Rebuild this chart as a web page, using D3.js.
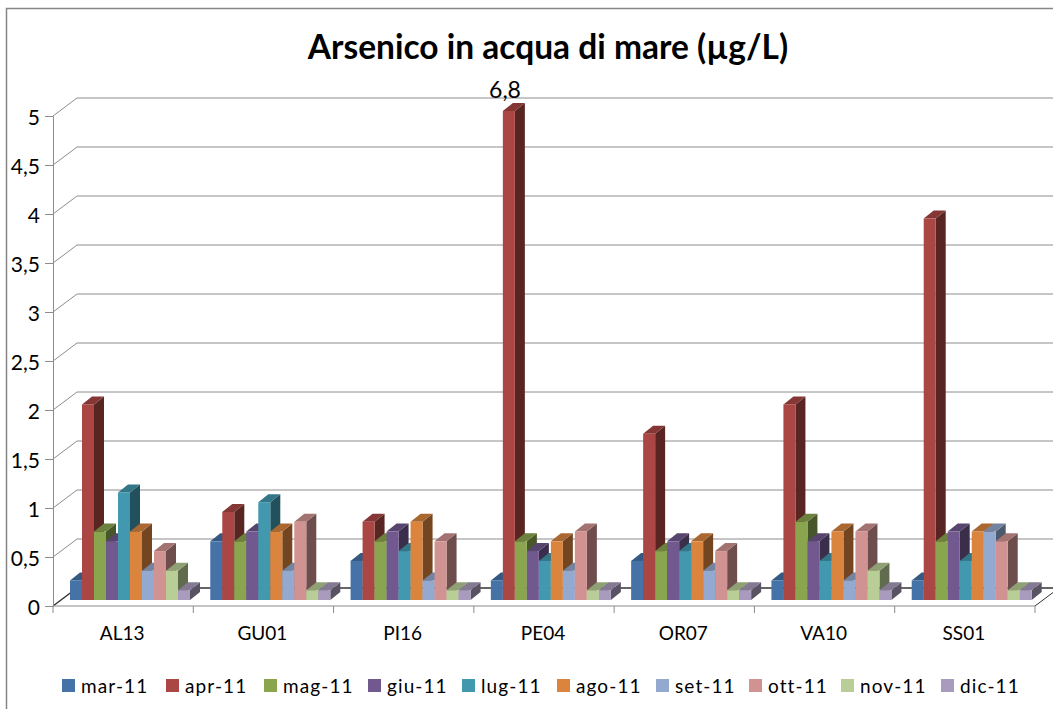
<!DOCTYPE html>
<html><head><meta charset="utf-8"><script src="https://cdn.jsdelivr.net/npm/d3@7/dist/d3.min.js"></script>
<style>html,body{margin:0;background:#fff}svg{display:block}text{font-family:Lato,"Open Sans",sans-serif;fill:#000}</style></head>
<body><svg id="c" width="1053" height="709"></svg>
<script>
const title="Arsenico in acqua di mare (µg/L)";
const stations=["AL13","GU01","PI16","PE04","OR07","VA10","SS01"];
const months=["mar-11","apr-11","mag-11","giu-11","lug-11","ago-11","set-11","ott-11","nov-11","dic-11"];
const colors=["#4572a7","#aa4643","#89a54e","#71588f","#4198af","#db843d","#93a9cf","#d19392","#b9cd96","#a99bbd"];
const legendX=[62,166,264,368,462,557,656,749,841,941];
const yTicks=[0,0.5,1,1.5,2,2.5,3,3.5,4,4.5,5];
const mar=[.2,.6,.4,.2,.4,.2,.2];
const apr=[2,.9,.8,6.8,1.7,2,3.9];
const mag=[.7,.6,.6,.6,.5,.8,.6];
const giu=[.6,.7,.7,.5,.6,.6,.7];
const lug=[1.1,1,.5,.4,.5,.4,.4];
const ago=[.7,.7,.8,.6,.6,.7,.7];
const set=[.3,.3,.2,.3,.3,.2,.7];
const ott=[.5,.8,.6,.7,.5,.7,.6];
const nov=[.3,.1,.1,.1,.1,.3,.1];
const dic=[.1,.1,.1,.1,.1,.1,.1];
const series=[mar,apr,mag,giu,lug,ago,set,ott,nov,dic];
const svg=d3.select("#c");
const fmt=d=>String(d).replace(".",",");
const y=d3.scaleLinear().domain([0,5]).range([606,116]).clamp(true);
const yBar=d3.scaleLinear().domain([0,5]).range([600,111]).clamp(true);
const x0=d3.scaleBand().domain(stations).range([53,1035]);
const x1=d3.scaleBand().domain(months).range([17,137]);
const dx=24,dy=18, bdx=10,bdy=8;
svg.append("path").attr("d","M6.5,709V8.5H1053").attr("fill","none").attr("stroke","#868686").attr("stroke-width",1.5);
svg.append("text").attr("x",548).attr("y",59).attr("text-anchor","middle").attr("font-size",33.5).attr("font-weight",700).text(title);
const grid="#8c8c8c";
const g=svg.append("g");
yTicks.slice(1).forEach(t=>{
  g.append("path").attr("d",`M53,${y(t)}l${dx},${-dy}H1053`).attr("fill","none").attr("stroke",grid);
});
g.append("path").attr("d",`M53,606l${dx},${-dy}H1053`).attr("fill","none").attr("stroke","#333").attr("stroke-width",1.4);
g.append("path").attr("d",`M1035,606l${dx},${-dy}`).attr("fill","none").attr("stroke","#333");
g.append("path").attr("d","M53,606H1035").attr("stroke",grid).attr("stroke-width",1.2);
x0.domain().concat([null]).forEach((s,i)=>{
  const px=53+i*x0.step();
  g.append("path").attr("d",`M${px},606v7`).attr("stroke",grid);
});
const ax=svg.append("g").attr("transform","translate(53,0)").call(d3.axisLeft(y).tickValues(yTicks).tickFormat(fmt).tickSize(8).tickPadding(5));
ax.select(".domain").attr("stroke",grid);
ax.selectAll(".tick line").attr("stroke",grid);
ax.selectAll("text").attr("font-size",21).attr("font-family","Lato").attr("y",2);
const shade=(c,k)=>d3.rgb(c).darker(k).formatHex();
stations.forEach((st,si)=>{
  months.forEach((m,mi)=>{
    const v=series[mi][si], X=x0(st)+x1(m), w=x1.bandwidth(), T=yBar(v), B=yBar(0);
    const c=colors[mi];
    const b=svg.append("g");
    b.append("path").attr("d",`M${X+w},${T}l${bdx},${-bdy}V${B-bdy}l${-bdx},${bdy}Z`).attr("fill",shade(c,1.8));
    b.append("path").attr("d",`M${X},${T}l${bdx},${-bdy}h${w}l${-bdx},${bdy}Z`).attr("fill",shade(c,.7));
    b.append("rect").attr("x",X).attr("y",T).attr("width",w).attr("height",B-T).attr("fill",c);
  });
  svg.append("text").attr("x",x0(st)+x0.step()/2-1).attr("y",640).attr("text-anchor","middle").attr("font-size",19).text(st);
});
svg.append("text").attr("x",505).attr("y",98).attr("text-anchor","middle").attr("font-size",23).text(fmt(d3.max(apr)));
months.forEach((m,i)=>{
  svg.append("rect").attr("x",legendX[i]).attr("y",679).attr("width",13).attr("height",13).attr("fill",colors[i]);
  svg.append("text").attr("x",legendX[i]+19).attr("y",693).attr("font-size",19).attr("letter-spacing",1.1).text(m);
});
</script></body></html>
